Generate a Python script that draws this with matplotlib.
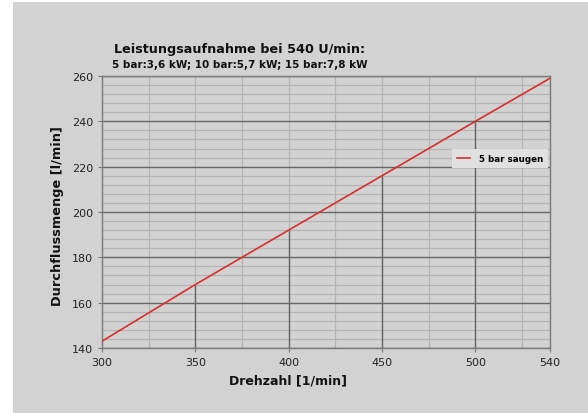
import matplotlib
matplotlib.use("Agg")
import matplotlib.pyplot as plt
from matplotlib.patches import Rectangle
from matplotlib.ticker import MultipleLocator

# data
drehzahl = [300, 350, 400, 450, 500, 540]
durchfluss = [143, 168, 192, 216, 240, 259]
xticks = [300, 350, 400, 450, 500, 540]
yticks = [140, 160, 180, 200, 220, 240, 260]

W, H = 588, 414
bg = "#d1d2d1"
fig = plt.figure(figsize=(W/100, H/100), dpi=100, facecolor="white")
# gray panel with a thin white border left/top
fig.patches.append(Rectangle((13/W, 0), 1, 411/H, transform=fig.transFigure,
                             facecolor=bg, edgecolor="none", zorder=-10))

ax = fig.add_axes([102/W, 1 - 349/H, 448/W, 272/H])
ax.set_facecolor(bg)
ax.set_xlim(300, 540)
ax.set_ylim(140, 260)
ax.set_xticks(xticks)
ax.set_yticks(yticks)
ax.xaxis.set_minor_locator(MultipleLocator(25))
ax.yaxis.set_minor_locator(MultipleLocator(4))

# grid: light minor lines, dark horizontal majors
ax.grid(which="minor", color="#b4b5b4", lw=0.9)
ax.grid(which="major", axis="x", color="#b4b5b4", lw=0.9)
ax.grid(which="major", axis="y", color="#666666", lw=1.0)
ax.set_axisbelow(True)

# dark drop lines from the curve down to the x axis
for x, y in zip(drehzahl[1:-1], durchfluss[1:-1]):
    ax.vlines(x, 140, y, color="#666666", lw=1.0, zorder=1)

ax.plot(drehzahl, durchfluss, color="#d9302c", lw=1.2, label="5 bar saugen", zorder=3)

for s in ax.spines.values():
    s.set_color("#7a7a7a")
    s.set_linewidth(1.0)

ax.tick_params(which="major", length=3, color="#7a7a7a", labelsize=8, labelcolor="#222222")
ax.tick_params(which="minor", length=0)

leg = ax.legend(loc="upper right", bbox_to_anchor=(0.995, 0.732), frameon=True,
                fancybox=False, prop={"weight": "bold", "size": 6.3},
                handlelength=1.5, handletextpad=1.0, borderpad=0.55, borderaxespad=0)
leg.get_frame().set_facecolor("#dfe0df")
leg.get_frame().set_edgecolor("none")
leg.get_frame().set_alpha(1)

fig.text(288/W, 1 - 381/H, "Drehzahl [1/min]", ha="center", va="center",
         fontsize=9, fontweight="bold", color="#111111")
fig.text(58/W, 1 - 216/H, "Durchflussmenge [l/min]", ha="center", va="center",
         rotation=90, fontsize=9.3, fontweight="bold", color="#111111")

fig.text(240/W, 1 - 50/H, "Leistungsaufnahme bei 540 U/min:", ha="center", va="center",
         fontsize=9.2, fontweight="bold", color="#111111")
fig.text(240/W, 1 - 65/H, "5 bar:3,6 kW; 10 bar:5,7 kW; 15 bar:7,8 kW", ha="center",
         va="center", fontsize=7.5, fontweight="bold", color="#111111")

fig.savefig("out.png", dpi=100, facecolor="white")
